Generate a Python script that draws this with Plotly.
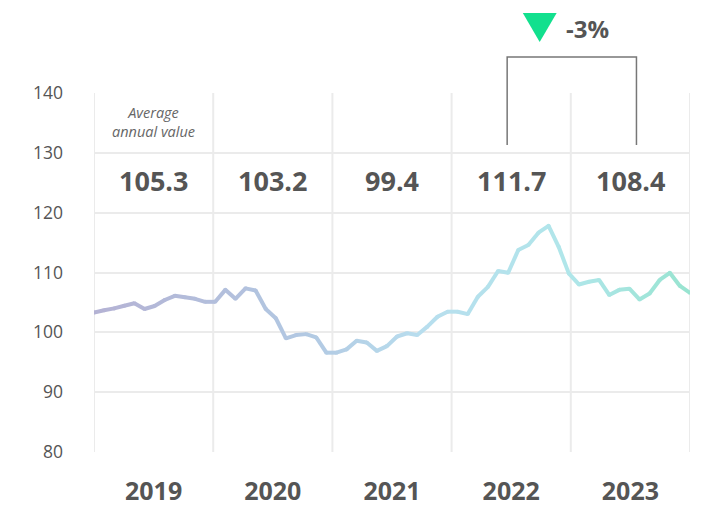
import plotly.graph_objects as go

years = ["2019", "2020", "2021", "2022", "2023"]
annual_avg = ["105.3", "103.2", "99.4", "111.7", "108.4"]
values_2019 = [103.3, 103.7, 104.0, 104.45, 104.85, 103.9, 104.4, 105.4, 106.1, 105.85, 105.6, 105.1]
values_2020 = [105.1, 107.1, 105.6, 107.35, 107.0, 103.9, 102.35, 99.0, 99.55, 99.7, 99.15, 96.6]
values_2021 = [96.6, 97.15, 98.6, 98.3, 96.9, 97.7, 99.3, 99.85, 99.55, 100.95, 102.6, 103.45]
values_2022 = [103.45, 103.05, 105.95, 107.6, 110.25, 109.95, 113.75, 114.6, 116.65, 117.8, 114.3, 109.85]
values_2023 = [108.0, 108.45, 108.75, 106.25, 107.1, 107.3, 105.5, 106.5, 108.75, 109.95, 107.75, 106.6]
change_label = "-3%"
avg_label = "Average<br>annual value"
y_ticks = [80, 90, 100, 110, 120, 130, 140]

values = values_2019 + values_2020 + values_2021 + values_2022 + values_2023
n = len(values)
x = list(range(n))
xmax = n - 1
year_w = xmax / len(years)

stops = [(0.0, (180, 178, 212)), (0.35, (178, 200, 226)), (0.55, (184, 222, 238)),
         (0.8, (176, 230, 234)), (1.0, (152, 228, 208))]

def col(t):
    for (t0, c0), (t1, c1) in zip(stops[:-1], stops[1:]):
        if t <= t1:
            f = (t - t0) / (t1 - t0) if t1 > t0 else 0
            return "rgb(%d,%d,%d)" % tuple(round(a + (b - a) * f) for a, b in zip(c0, c1))
    return "rgb(%d,%d,%d)" % stops[-1][1]

fig = go.Figure()
for i in range(n - 1):
    c = col((i + 0.5) / (n - 1))
    fig.add_trace(go.Scatter(x=[x[i], x[i + 1]], y=[values[i], values[i + 1]], mode="lines",
                             line=dict(color=c, width=4), hoverinfo="skip", showlegend=False))
fig.add_trace(go.Scatter(x=x, y=values, mode="markers",
                         marker=dict(size=4, color=[col(i / (n - 1)) for i in range(n)]),
                         hoverinfo="skip", showlegend=False))

grid = "#ebebeb"
shapes = []
for k in range(len(years) + 1):
    shapes.append(dict(type="line", xref="x", yref="y", x0=k * year_w, x1=k * year_w, y0=80, y1=140,
                       line=dict(color=grid, width=2), layer="below"))

# bracket (paper y: plot spans 359px)
bx0 = 40.9
bx1 = 53.7
shapes.append(dict(type="path", xref="x", yref="paper",
                   path="M %f,0.855 L %f,1.1003 L %f,1.1003 L %f,0.855" % (bx0, bx0, bx1, bx1),
                   line=dict(color="#777777", width=1.5)))
# triangle
shapes.append(dict(type="path", xref="x", yref="paper",
                   path="M 42.45,1.2228 L 45.8,1.2228 L 44.12,1.1421 Z",
                   fillcolor="#12e08e", line=dict(color="#12e08e", width=0)))

annotations = []
for k, v in enumerate(annual_avg):
    annotations.append(dict(x=(k + 0.5) * year_w, y=0.755, xref="x", yref="paper", text="<b>%s</b>" % v,
                            showarrow=False, yanchor="middle",
                            font=dict(size=27, color="#555555", family="Open Sans")))
annotations.append(dict(x=0.5 * year_w, y=0.918, xref="x", yref="paper", text="<i>%s</i>" % avg_label,
                        showarrow=False, yanchor="middle", align="center",
                        font=dict(size=14.5, color="#666666", family="Open Sans")))
annotations.append(dict(x=48.9, y=1.18, xref="x", yref="paper", text="<b>%s</b>" % change_label,
                        showarrow=False, yanchor="middle",
                        font=dict(size=24, color="#555555", family="Open Sans")))

# page body has an 8px margin: figure is offset by (8, 8)
fig.update_layout(
    width=700, height=499,
    margin=dict(l=86, r=18, t=85, b=55, autoexpand=False),
    paper_bgcolor="white", plot_bgcolor="white",
    shapes=shapes, annotations=annotations,
    font=dict(family="Open Sans", color="#555555"),
    xaxis=dict(range=[0, xmax], showgrid=False, zeroline=False, showline=False,
               tickvals=[(k + 0.5) * year_w for k in range(len(years))],
               ticktext=["<b>%s</b>" % y for y in years],
               tickfont=dict(size=25, color="#555555", family="Open Sans"),
               ticks="", ticklabelstandoff=22, automargin=False),
    yaxis=dict(range=[80, 140], tickvals=y_ticks, showgrid=True, gridcolor=grid, gridwidth=2,
               zeroline=False, showline=False, ticks="", ticklabelstandoff=30, automargin=False,
               tickfont=dict(size=17.5, color="#555555", family="Open Sans")),
)

fig.write_html("out.html")
